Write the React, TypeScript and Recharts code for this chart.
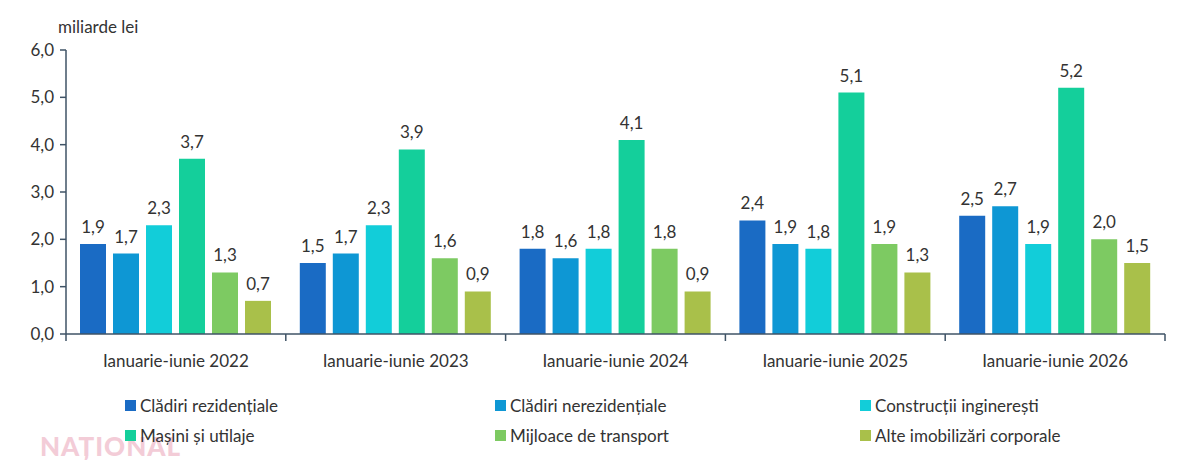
import React from 'react';
import { BarChart, Bar, XAxis, YAxis, LabelList, Legend } from 'recharts';

const periods = [
  'Ianuarie-iunie 2022',
  'Ianuarie-iunie 2023',
  'Ianuarie-iunie 2024',
  'Ianuarie-iunie 2025',
  'Ianuarie-iunie 2026',
];

const cladiriRezidentiale = [1.9, 1.5, 1.8, 2.4, 2.5];
const cladiriNerezidentiale = [1.7, 1.7, 1.6, 1.9, 2.7];
const constructiiIngineresti = [2.3, 2.3, 1.8, 1.8, 1.9];
const masiniUtilaje = [3.7, 3.9, 4.1, 5.1, 5.2];
const mijloaceTransport = [1.3, 1.6, 1.8, 1.9, 2.0];
const alteImobilizari = [0.7, 0.9, 0.9, 1.3, 1.5];

const yTicks = [0, 1, 2, 3, 4, 5, 6];

const series = [
  { key: 'rez', name: 'Clădiri rezidențiale', color: '#1a6bc4', values: cladiriRezidentiale },
  { key: 'nerez', name: 'Clădiri nerezidențiale', color: '#0e97d4', values: cladiriNerezidentiale },
  { key: 'ing', name: 'Construcții inginerești', color: '#12cdd9', values: constructiiIngineresti },
  { key: 'mas', name: 'Mașini și utilaje', color: '#14cf9b', values: masiniUtilaje },
  { key: 'trans', name: 'Mijloace de transport', color: '#7dca62', values: mijloaceTransport },
  { key: 'alte', name: 'Alte imobilizări corporale', color: '#a9c04a', values: alteImobilizari },
];

const data = periods.map((p, i) => {
  const row: Record<string, string | number> = { period: p };
  series.forEach((s) => {
    row[s.key] = s.values[i];
  });
  return row;
});

const FONT = 'Lato, "Open Sans", sans-serif';
const AXIS = '#3f5366';
const fmt = (v: number) => v.toFixed(1).replace('.', ',');

// category label plus tick marks on the band edges
const PeriodTick = (props: any) => {
  const { x, y, payload, index } = props;
  const half = payload.offset || 0;
  const isLast = index === periods.length - 1;
  return (
    <g>
      <line x1={x - half} x2={x - half} y1={y} y2={y + 7} stroke={AXIS} strokeWidth={1.5} />
      {isLast && <line x1={x + half} x2={x + half} y1={y} y2={y + 7} stroke={AXIS} strokeWidth={1.5} />}
      <text x={x} y={y + 33} textAnchor="middle" fontFamily={FONT} fontSize={17} fill="#333">
        {payload.value}
      </text>
    </g>
  );
};

const LegendContent = () => (
  <div
    style={{
      display: 'grid',
      gridTemplateColumns: '370px 365px 340px',
      rowGap: 9,
      paddingLeft: 125,
      fontFamily: FONT,
      fontSize: 17,
      color: '#333',
    }}
  >
    {series.map((s) => (
      <div key={s.key} style={{ display: 'flex', alignItems: 'center', height: 21 }}>
        <span
          style={{ width: 11, height: 11, background: s.color, display: 'inline-block', marginRight: 4 }}
        />
        {s.name}
      </div>
    ))}
  </div>
);

export default function App() {
  return (
    <div style={{ position: 'absolute', left: 0, top: 0, width: 1200, height: 470, background: '#fff' }}>
      <div
        style={{
          position: 'absolute',
          left: 58,
          top: 16,
          fontFamily: FONT,
          fontSize: 17,
          color: '#333',
        }}
      >
        miliarde lei
      </div>
      <div
        style={{
          position: 'absolute',
          left: 40,
          top: 430,
          fontFamily: FONT,
          fontSize: 26,
          fontWeight: 900,
          color: '#f3ccd7',
          letterSpacing: 1,
        }}
      >
        NAȚIONAL
      </div>
      <BarChart
        width={1200}
        height={470}
        data={data}
        margin={{ top: 50, right: 35, bottom: 25, left: 0 }}
        barGap={7}
        barSize={26}
      >
        <XAxis
          dataKey="period"
          axisLine={{ stroke: AXIS, strokeWidth: 1.5 }}
          tickLine={false}
          tickSize={0}
          tickMargin={0}
          tick={<PeriodTick />}
          interval={0}
          height={60}
        />
        <YAxis
          domain={[0, 6]}
          ticks={yTicks}
          tickFormatter={fmt}
          width={66}
          axisLine={{ stroke: AXIS, strokeWidth: 1.5 }}
          tickLine={{ stroke: AXIS, strokeWidth: 1.5 }}
          tickSize={6}
          tickMargin={6}
          tick={{ fontFamily: FONT, fontSize: 17, fill: '#333' }}
        />
        <Legend
          verticalAlign="bottom"
          content={<LegendContent />}
          wrapperStyle={{ left: 0, top: 395, width: 1200 }}
        />
        {series.map((s) => (
          <Bar key={s.key} dataKey={s.key} name={s.name} fill={s.color} isAnimationActive={false}>
            <LabelList
              dataKey={s.key}
              position="top"
              offset={11}
              formatter={(v: number) => fmt(v)}
              style={{ fontFamily: FONT, fontSize: 17, fill: '#333' }}
            />
          </Bar>
        ))}
      </BarChart>
    </div>
  );
}
